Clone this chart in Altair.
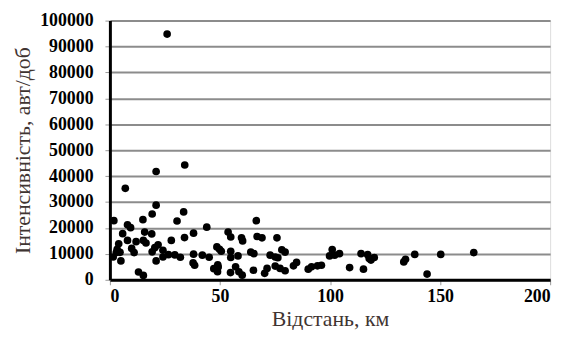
import altair as alt
import pandas as pd

distance_km = [
    26, 34, 21, 7, 21, 33.5, 19.2, 15, 1.8, 30.5,
    8, 9.4, 44, 5.8, 15.8, 19, 38, 33.9, 8, 11.9,
    15.2, 16.4, 27.9, 4, 21.9, 20.4, 9.9, 3.3, 4.6, 2.9,
    11, 19.2, 24.1, 1.5, 26.6, 24.1, 29.5, 32, 38, 42,
    45.1, 5, 21, 37.8, 38.5, 13, 15.2, 47.2, 53.7, 54.9,
    59.8, 60.3, 48.6, 49.8, 50.6, 54.9, 54.9, 58.2, 49, 49.2,
    48.9, 54.8, 57.1, 58.6, 60.1, 65.2, 66.5, 66.9, 69.1, 75.9,
    64, 65.4, 78.1, 79.6, 72.8, 75.1, 76.3, 71.4, 70.3, 75.1,
    77.3, 79.6, 83.4, 84.8, 90.1, 91.6, 94.3, 96.1, 101, 99.8,
    102.1, 104.3, 108.9, 114.1, 117.1, 117.8, 120.1, 118.6, 115.2, 133.5,
    134.3, 144.1, 138.5, 150.3, 165.3,
]
intensity = [
    94800, 44300, 41800, 35300, 28800, 26200, 25400, 23200, 22800, 22700,
    21200, 20100, 20300, 17800, 18400, 17700, 18000, 16300, 15200, 14700,
    15200, 14200, 15200, 13900, 13500, 12400, 12100, 11800, 10600, 10500,
    10500, 10800, 11400, 8800, 9700, 8800, 9600, 8700, 9900, 9500,
    8700, 7300, 7300, 6500, 5600, 3000, 1700, 4300, 18400, 16500,
    16200, 15000, 12700, 11800, 11000, 11000, 8600, 9200, 5800, 4900,
    3100, 2800, 5000, 3100, 1800, 3700, 22800, 16700, 16200, 16200,
    10700, 10100, 11600, 10700, 9500, 8800, 8500, 4400, 2500, 5300,
    4400, 3500, 5400, 6700, 4100, 5000, 5400, 5600, 11700, 9200,
    9500, 10100, 4700, 10100, 9700, 8200, 8600, 7600, 4100, 6900,
    7900, 2200, 9800, 9800, 10500,
]

x_ticks = [0, 50, 100, 150, 200]
y_ticks = [0, 10000, 20000, 30000, 40000, 50000, 60000, 70000, 80000, 90000, 100000]

df = pd.DataFrame({"d": distance_km, "q": intensity})

title_color = "#3f3431"

chart = (
    alt.Chart(df)
    .mark_circle(color="black", opacity=1, size=60)
    .encode(
        x=alt.X(
            "d:Q",
            title="Відстань, км",
            scale=alt.Scale(domain=[0, 200], nice=False, zero=True),
            axis=alt.Axis(
                values=x_ticks,
                grid=False,
                domainColor="black",
                domainWidth=3,
                tickColor="#999999",
                tickSize=5,
                tickWidth=1,
                labelFont="Liberation Serif",
                labelFontWeight="bold",
                labelFontSize=18,
                labelColor="black",
                labelPadding=3,
                titleFont="Liberation Serif",
                titleFontWeight="normal",
                titleFontSize=22,
                titleColor=title_color,
                titlePadding=3,
            ),
        ),
        y=alt.Y(
            "q:Q",
            title="Інтенсивність, авт/доб",
            scale=alt.Scale(domain=[0, 100000], nice=False),
            axis=alt.Axis(
                values=y_ticks,
                format="d",
                grid=True,
                gridColor="#8c8c8c",
                gridWidth=2,
                domainColor="black",
                domainWidth=3,
                tickColor="#999999",
                tickSize=5,
                tickWidth=1,
                labelFont="Liberation Serif",
                labelFontWeight="bold",
                labelFontSize=18,
                labelColor="black",
                labelPadding=12,
                titleFont="Liberation Serif",
                titleFontWeight="normal",
                titleFontSize=22,
                titleColor=title_color,
                titlePadding=5,
            ),
        ),
    )
    .properties(
        width=445,
        height=262,
        autosize=alt.AutoSizeParams(type="none"),
        padding={"left": 103, "top": 11, "right": 13, "bottom": 49},
    )
    .configure_view(stroke="black", strokeWidth=2.5)
    .configure(background="white")
)

chart.save("out.html", embed_options={"renderer": "svg", "actions": False})
